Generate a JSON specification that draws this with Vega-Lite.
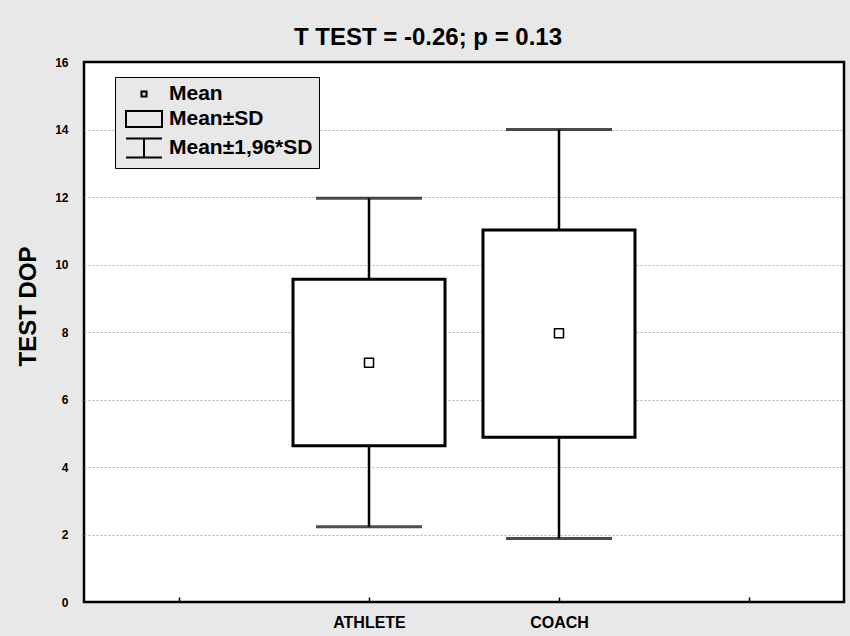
{
  "$schema": "https://vega.github.io/schema/vega-lite/v6.json",
  "width": 760,
  "height": 540,
  "autosize": {"type": "none"},
  "padding": {"left": 84, "top": 62, "right": 6, "bottom": 34},
  "background": "#e8e8e8",
  "title": {
    "text": "T TEST = -0.26; p = 0.13",
    "font": "Liberation Sans",
    "fontSize": 24,
    "fontWeight": "bold",
    "color": "#000",
    "anchor": "middle",
    "dx": -36,
    "offset": 6
  },
  "config": {
    "view": {"stroke": "#000", "strokeWidth": 2.5, "fill": "white"},
    "axis": {
      "labelFont": "Liberation Sans",
      "titleFont": "Liberation Sans",
      "labelFontWeight": "bold",
      "labelColor": "#000",
      "titleColor": "#000",
      "domain": false
    },
    "legend": {
      "symbolStrokeColor": "#000",
      "symbolStrokeWidth": 2,
      "symbolFillColor": "white"
    }
  },
  "data": {
    "values": [
      {"group": "ATHLETE", "mean": 7.09, "sdLow": 4.63, "sdHigh": 9.56, "ciLow": 2.23, "ciHigh": 11.96},
      {"group": "COACH", "mean": 7.96, "sdLow": 4.88, "sdHigh": 11.02, "ciLow": 1.88, "ciHigh": 14.0}
    ]
  },
  "encoding": {
    "x": {
      "field": "group",
      "type": "nominal",
      "scale": {"type": "point", "domain": ["L", "ATHLETE", "COACH", "R"], "padding": 0.5},
      "axis": {
        "title": null,
        "labelAngle": 0,
        "labelFontSize": 16,
        "labelExpr": "datum.value == 'L' || datum.value == 'R' ? '' : datum.value",
        "ticks": true,
        "tickSize": -5,
        "tickColor": "#000",
        "tickWidth": 1.5,
        "labelPadding": 17,
        "grid": false
      }
    }
  },
  "layer": [
    {
      "mark": {"type": "rule", "color": "#000", "strokeWidth": 2.5},
      "encoding": {
        "y": {
          "field": "ciLow",
          "type": "quantitative",
          "scale": {"domain": [0, 16], "nice": false},
          "axis": {
            "title": "TEST DOP",
            "titleFontSize": 24,
            "titleFontWeight": "bold",
            "titlePadding": 14,
            "titleY": 244,
            "values": [0, 2, 4, 6, 8, 10, 12, 14, 16],
            "labelFontSize": 12,
            "labelPadding": 16,
            "ticks": false,
            "grid": true,
            "gridColor": "#b0b0b0",
            "gridDash": [2, 2],
            "gridWidth": 1,
            "gridOpacity": {"condition": {"test": "datum.value == 0 || datum.value == 16", "value": 0}, "value": 1}
          }
        },
        "y2": {"field": "ciHigh"}
      }
    },
    {
      "mark": {"type": "bar", "size": 152, "fill": "white", "stroke": "#000", "strokeWidth": 3},
      "encoding": {
        "y": {"field": "sdLow", "type": "quantitative"},
        "y2": {"field": "sdHigh"}
      }
    },
    {
      "mark": {"type": "tick", "size": 106, "thickness": 3, "color": "#000"},
      "encoding": {"y": {"field": "ciLow", "type": "quantitative"}}
    },
    {
      "mark": {"type": "tick", "size": 106, "thickness": 3, "color": "#000"},
      "encoding": {"y": {"field": "ciHigh", "type": "quantitative"}}
    },
    {
      "mark": {"type": "point", "filled": false, "color": "#000", "strokeWidth": 1.5, "size": 1296, "opacity": 1},
      "encoding": {
        "y": {"field": "mean", "type": "quantitative"},
        "shape": {
          "datum": "Mean",
          "type": "nominal",
          "scale": {
            "domain": ["Mean", "Mean±SD", "Mean±1,96*SD"],
            "range": [
              "M-0.25,-0.25H0.25V0.25H-0.25Z",
              "M-1.8,-0.8H1.8V0.8H-1.8Z",
              "M-1.8,-0.95H1.8M0,-0.95V0.95M-1.8,0.95H1.8"
            ]
          },
          "legend": {
            "title": null,
            "orient": "none",
            "legendX": 31,
            "legendY": 15,
            "padding": 6,
            "fillColor": "#e8e8e8",
            "strokeColor": "#000",
            "symbolSize": 400,
            "symbolOffset": 12,
            "symbolStrokeColor": "#000",
            "symbolStrokeWidth": 2,
            "symbolFillColor": "white",
            "symbolOpacity": 1,
            "labelOffset": 14,
            "labelFont": "Liberation Sans",
            "labelFontSize": 21,
            "labelFontWeight": "bold",
            "labelColor": "#000",
            "labelExpr": "datum.label + '\u00a0\u00a0\u00a0'",
            "rowPadding": 3,
            "labelLimit": 300
          }
        }
      }
    }
  ]
}
